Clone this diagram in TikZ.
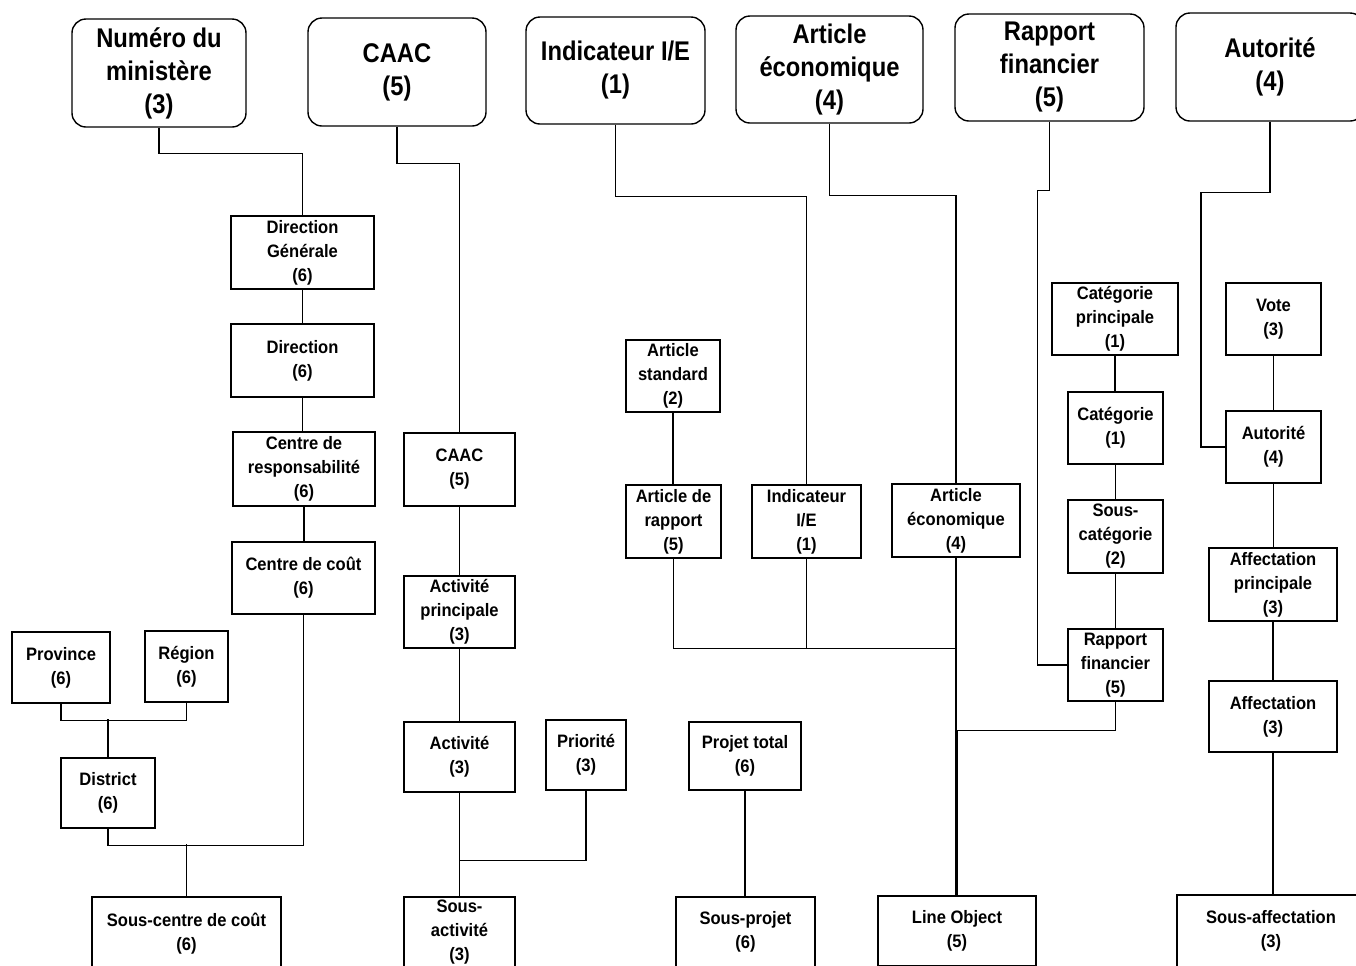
\documentclass[tikz,border=0pt]{standalone}
\usepackage{fontspec}
\setmainfont{Liberation Sans}
\newfontfamily\ttlfont[FakeStretch=0.88]{Liberation Sans}
\newfontfamily\itmfont[FakeStretch=0.92]{Liberation Sans}
\begin{document}
\begin{tikzpicture}[x=0.5pt,y=-0.5pt]
\tikzset{
 titlebox/.style={draw, rounded corners=7pt, line width=0.7pt, align=center, font=\ttlfont\bfseries\fontsize{13.5}{16.5}\selectfont, inner sep=0pt},
 itembox/.style={draw, line width=0.6pt, align=center, font=\itmfont\bfseries\fontsize{9}{12}\selectfont, inner sep=0pt},
 wh/.style 2 args={minimum width=#1*0.5pt, minimum height=#2*0.5pt},
 link/.style={line width=0.55pt}
}
\useasboundingbox (0,0) rectangle (1356,965);
\clip (0,0) rectangle (1356,965);
% top boxes
\node[titlebox, wh={174}{108}] (num) at (159,73) {Numéro du\\ministère\\(3)};
\node[titlebox, wh={178}{108}] (caac) at (397,72) {CAAC\\(5)};
\node[titlebox, wh={179}{107}] (ie) at (615.5,70.5) {Indicateur I/E\\(1)};
\node[titlebox, wh={187}{107}] (ae) at (829.5,69.5) {Article\\économique\\(4)};
\node[titlebox, wh={189}{107}] (rf) at (1049.5,67.5) {Rapport\\financier\\(5)};
\node[titlebox, wh={188}{108}] (aut) at (1270,67) {Autorité\\(4)};
% column 1
\node[itembox, wh={143}{73}] (dg) at (302.5,252.5) {Direction\\Générale\\(6)};
\node[itembox, wh={143}{73}] (dir) at (302.5,360.5) {Direction\\(6)};
\node[itembox, wh={142}{74}] (cres) at (304,469) {Centre de\\responsabilité\\(6)};
\node[itembox, wh={143}{72}] (ccout) at (303.5,578) {Centre de coût\\(6)};
\node[itembox, wh={98}{71}] (prov) at (61,667.5) {Province\\(6)};
\node[itembox, wh={83}{71}] (reg) at (186.5,666.5) {Région\\(6)};
\node[itembox, wh={94}{70}] (dist) at (108,793) {District\\(6)};
\node[itembox, wh={189}{74}] (scc) at (186.5,934) {Sous-centre de coût\\(6)};
% column 2
\node[itembox, wh={111}{73}] (caac2) at (459.5,469.5) {CAAC\\(5)};
\node[itembox, wh={111}{72}] (actp) at (459.5,612) {Activité\\principale\\(3)};
\node[itembox, wh={111}{70}] (act) at (459.5,757) {Activité\\(3)};
\node[itembox, wh={80}{70}] (prio) at (586,755) {Priorité\\(3)};
\node[itembox, wh={111}{70}] (sact) at (459.5,932) {Sous-\\activité\\(3)};
% column 3
\node[itembox, wh={94}{72}] (ast) at (673,376) {Article\\standard\\(2)};
\node[itembox, wh={95}{73}] (ar) at (673.5,521.5) {Article de\\rapport\\(5)};
\node[itembox, wh={109}{73}] (ie2) at (806.5,521.5) {Indicateur\\I/E\\(1)};
\node[itembox, wh={128}{73}] (ae2) at (956,520.5) {Article\\économique\\(4)};
\node[itembox, wh={112}{68}] (proj) at (745,756) {Projet total\\(6)};
\node[itembox, wh={139}{70}] (sproj) at (745.5,932) {Sous-projet\\(6)};
\node[itembox, wh={158}{70}] (lo) at (957,931) {Line Object\\(5)};
% column 4
\node[itembox, wh={126}{72}] (catp) at (1115,319) {Catégorie\\principale\\(1)};
\node[itembox, wh={95}{72}] (cat) at (1115.5,428) {Catégorie\\(1)};
\node[itembox, wh={95}{73}] (scat) at (1115.5,536.5) {Sous-\\catégorie\\(2)};
\node[itembox, wh={95}{72}] (rf2) at (1115.5,665) {Rapport\\financier\\(5)};
% column 5
\node[itembox, wh={95}{72}] (vote) at (1273.5,319) {Vote\\(3)};
\node[itembox, wh={95}{72}] (aut2) at (1273.5,447) {Autorité\\(4)};
\node[itembox, wh={128}{73}] (affp) at (1273,584.5) {Affectation\\principale\\(3)};
\node[itembox, wh={128}{71}] (aff) at (1273,716.5) {Affectation\\(3)};
\node[itembox, wh={188}{72}] (saff) at (1271,931) {Sous-affectation\\(3)};
% connectors
\begin{scope}[link]
\draw (num.south) -- ++(0,26) -| (dg.north);
\draw (dg.south) -- (dg.south |- dir.north);
\draw (dir.south) -- (dir.south |- cres.north);
\draw (cres.south) -- (cres.south |- ccout.north);
\draw (ccout.south) -- ++(0,231) -| (dist.south);
\draw (scc.north) -- ++(0,-52);
\draw (prov.south) -- ++(0,17) -| (reg.south);
\draw (dist.north) -- ++(0,-38);
\draw (caac.south) -- ++(0,37) -| (caac2.north);
\draw (caac2.south) -- (caac2.south |- actp.north);
\draw (actp.south) -- (actp.south |- act.north);
\draw (act.south) -- (act.south |- sact.north);
\draw (prio.south) -- ++(0,70) -| (act.south);
\draw (ie.south) -- ++(0,72) -| (ie2.north);
\draw (ae.south) -- ++(0,72) -| (ae2.north);
\draw (ast.south) -- (ast.south |- ar.north);
\draw (ar.south) -- ++(0,90) -| (ae2.south);
\draw (ie2.south) -- ++(0,90);
\draw (ae2.south) -- (ae2.south |- lo.north);
\draw (rf2.south) -- ++(0,29) -| (lo.north);
\draw (proj.south) -- (proj.south |- sproj.north);
\draw (rf.south) -- ++(0,69) -- ++(-12,0) |- (rf2.west);
\draw (catp.south) -- (catp.south |- cat.north);
\draw (cat.south) -- (cat.south |- scat.north);
\draw (scat.south) -- (scat.south |- rf2.north);
\draw (aut.south) -- ++(0,71) -- ++(-69,0) |- (aut2.west);
\draw (vote.south) -- (vote.south |- aut2.north);
\draw (aut2.south) -- (aut2.south |- affp.north);
\draw (affp.south) -- (affp.south |- aff.north);
\draw (aff.south) -- (aff.south |- saff.north);
\end{scope}
\end{tikzpicture}
\end{document}
